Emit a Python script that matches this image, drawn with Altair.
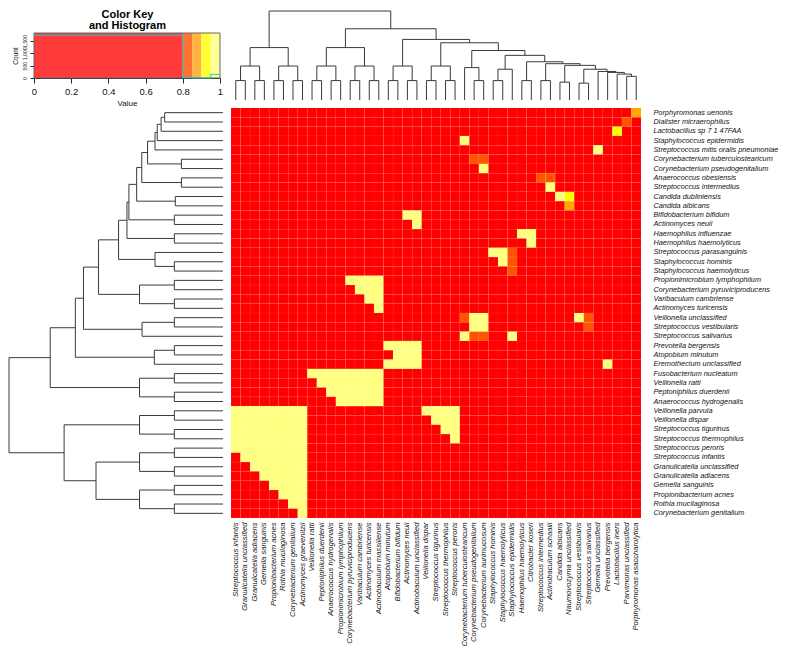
import altair as alt
import numpy as np
import pandas as pd

FONT = "Liberation Sans, Arial, Helvetica, sans-serif"

row_names = [
    "Porphyromonas uenonis", "Dialister micraerophilus", "Lactobacillus sp 7 1 47FAA",
    "Staphylococcus epidermidis", "Streptococcus mitis oralis pneumoniae",
    "Corynebacterium tuberculostearicum", "Corynebacterium pseudogenitalium",
    "Anaerococcus obesiensis", "Streptococcus intermedius", "Candida dubliniensis",
    "Candida albicans", "Bifidobacterium bifidum", "Actinomyces neuii",
    "Haemophilus influenzae", "Haemophilus haemolyticus", "Streptococcus parasanguinis",
    "Staphylococcus hominis", "Staphylococcus haemolyticus", "Propionimicrobium lymphophilum",
    "Corynebacterium pyruviciproducens", "Varibaculum cambriense", "Actinomyces turicensis",
    "Veillonella unclassified", "Streptococcus vestibularis", "Streptococcus salivarius",
    "Prevotella bergensis", "Atopobium minutum", "Eremothecium unclassified",
    "Fusobacterium nucleatum", "Veillonella ratti", "Peptoniphilus duerdenii",
    "Anaerococcus hydrogenalis", "Veillonella parvula", "Veillonella dispar",
    "Streptococcus tigurinus", "Streptococcus thermophilus", "Streptococcus peroris",
    "Streptococcus infantis", "Granulicatella unclassified", "Granulicatella adiacens",
    "Gemella sanguinis", "Propionibacterium acnes", "Rothia mucilaginosa",
    "Corynebacterium genitalium",
]

col_names = [
    "Streptococcus infantis", "Granulicatella unclassified", "Granulicatella adiacens",
    "Gemella sanguinis", "Propionibacterium acnes", "Rothia mucilaginosa",
    "Corynebacterium genitalium", "Actinomyces graevenitzii", "Veillonella ratti",
    "Peptoniphilus duerdenii", "Anaerococcus hydrogenalis", "Propionimicrobium lymphophilum",
    "Corynebacterium pyruviciproducens", "Varibaculum cambriense", "Actinomyces turicensis",
    "Actinobaculum massiliense", "Atopobium minutum", "Bifidobacterium bifidum",
    "Actinomyces neuii", "Actinobaculum unclassified", "Veillonella dispar",
    "Streptococcus tigurinus", "Streptococcus thermophilus", "Streptococcus peroris",
    "Corynebacterium tuberculostearicum", "Corynebacterium pseudogenitalium",
    "Corynebacterium aurimucosum", "Staphylococcus hominis", "Staphylococcus haemolyticus",
    "Staphylococcus epidermidis", "Haemophilus haemolyticus", "Citrobacter koseri",
    "Streptococcus intermedius", "Actinobaculum schaalii", "Candida albicans",
    "Naumovozyma unclassified", "Streptococcus vestibularis", "Streptococcus salivarius",
    "Gemella unclassified", "Prevotella bergensis", "Lactobacillus iners",
    "Parvimonas unclassified", "Porphyromonas asaccharolytica",
]

# non-red blocks: (row, first col, last col, value)
cell_spans = [
    (0, 42, 42, 0.87), (1, 41, 41, 0.82), (2, 40, 40, 0.92), (3, 24, 24, 0.98),
    (4, 38, 38, 0.98), (5, 25, 26, 0.82), (6, 26, 26, 0.98), (7, 32, 33, 0.82),
    (8, 33, 33, 0.98), (9, 34, 34, 0.98), (9, 35, 35, 0.92), (10, 35, 35, 0.87),
    (11, 18, 19, 0.98), (12, 19, 19, 0.98), (13, 30, 31, 0.98), (14, 31, 31, 0.98),
    (15, 27, 28, 0.98), (15, 29, 29, 0.82), (16, 28, 28, 0.98), (16, 29, 29, 0.82),
    (17, 29, 29, 0.82), (18, 12, 15, 0.98), (19, 13, 15, 0.98), (20, 14, 15, 0.98),
    (21, 15, 15, 0.98),
    (22, 24, 24, 0.82), (22, 25, 26, 0.98), (22, 36, 36, 0.98), (22, 37, 37, 0.82),
    (23, 25, 26, 0.98), (23, 37, 37, 0.82),
    (24, 24, 24, 0.98), (24, 25, 26, 0.82), (24, 29, 29, 0.98),
    (25, 16, 19, 0.98), (26, 17, 19, 0.98), (27, 16, 19, 0.98), (27, 39, 39, 0.98),
    (28, 8, 15, 0.98), (29, 9, 15, 0.98), (30, 10, 15, 0.98), (31, 11, 15, 0.98),
    (32, 0, 7, 0.98), (32, 20, 23, 0.98), (33, 0, 7, 0.98), (33, 21, 23, 0.98),
    (34, 0, 7, 0.98), (34, 22, 23, 0.98), (35, 0, 7, 0.98), (35, 23, 23, 0.98),
    (36, 0, 7, 0.98), (37, 1, 7, 0.98), (38, 2, 7, 0.98), (39, 3, 7, 0.98),
    (40, 4, 7, 0.98), (41, 5, 7, 0.98), (42, 6, 7, 0.98), (43, 7, 7, 0.98),
]

# hclust-style merges: negative = leaf (1-based), positive = earlier merge
row_merges = [
    (-1, -2, 60.3), (1, -3, 64.0), (2, -4, 68.0), (3, -5, 70.3), (-6, -7, 43.0),
    (4, 5, 78.0), (-8, -9, 43.0), (6, 7, 84.0), (-10, -11, 49.3), (8, 9, 89.3),
    (-12, -13, 50.3), (10, 11, 97.3), (-14, -15, 50.3), (12, 13, 99.3),
    (-17, -18, 50.3), (-16, 15, 70.3), (14, 16, 108.0), (-19, -20, 50.3),
    (-21, -22, 50.3), (18, 19, 86.3), (17, 20, 128.7), (-23, -24, 50.3),
    (22, -25, 83.7), (21, 23, 144.3), (-26, -27, 50.3), (25, -28, 71.0),
    (24, 26, 152.7), (-29, -30, 50.3), (-31, -32, 50.3), (28, 29, 86.3),
    (27, 30, 178.7), (-33, -34, 50.3), (-35, -36, 50.3), (32, 33, 86.3),
    (-37, -38, 50.3), (-39, -40, 50.3), (35, 36, 86.3), (-41, -42, 50.3),
    (-43, -44, 50.3), (38, 39, 86.3), (37, 40, 131.3), (34, 41, 164.3),
    (31, 42, 221.3),
]

col_merges = [
    (-1, -2, 20.0), (-3, -4, 20.0), (1, 2, 35.0), (-5, -6, 20.0), (-7, -8, 20.0),
    (4, 5, 35.0), (3, 6, 54.0), (-9, -10, 20.0), (-11, -12, 20.0), (8, 9, 35.0),
    (-13, -14, 20.0), (-15, -16, 20.0), (11, 12, 35.0), (10, 13, 54.0),
    (-17, -18, 20.0), (-19, -20, 20.0), (15, 16, 35.0), (-21, -22, 20.0),
    (-23, -24, 20.0), (18, 19, 35.0), (-26, -27, 20.0), (-25, 21, 33.4),
    (-28, -29, 20.0), (23, -30, 31.7), (-31, -32, 20.0), (-33, -34, 20.0),
    (-35, -36, 18.4), (-37, -38, 17.4), (-42, -43, 24.4), (-41, 29, 26.7),
    (-40, 30, 28.4), (-39, 31, 29.4), (28, 32, 31.7), (27, 33, 35.7),
    (26, 34, 37.4), (25, 35, 39.4), (24, 36, 46.0), (22, 37, 51.0),
    (20, 38, 59.0), (17, 39, 62.4), (14, 40, 73.4), (7, 41, 91.7),
]

key_breaks = [0.0, 0.8, 0.85, 0.9, 0.95, 1.0]
heat_colors = ["#FF0000", "#FF5500", "#FFAA00", "#FFFF00", "#FFFF80"]
key_colors = ["#FF3B3B", "#FF7433", "#FFB340", "#FFFF33", "#FFFF99"]
count_ticks = [0, 500, 1000, 1500]

# ---------------- build tables ----------------
vals = {}
for r, c0, c1, v in cell_spans:
    for c in range(c0, c1 + 1):
        vals[(r, c)] = v
heat_rows = []
for r, rn in enumerate(row_names):
    for c, cn in enumerate(col_names):
        heat_rows.append({"row": rn, "col": cn, "value": vals.get((r, c), 0.0)})
heat_df = pd.DataFrame(heat_rows)

counts, _ = np.histogram(heat_df["value"].values, bins=key_breaks)
counts = [int(x) for x in counts]
count_top = max(counts) / 0.95

bins_df = pd.DataFrame({
    "lo": key_breaks[:-1], "hi": key_breaks[1:],
    "ylo": [0.0] * 5, "yhi": [count_top] * 5, "colour": key_colors,
})
hist_df = pd.DataFrame({"x": key_breaks, "y": counts + [counts[-1]], "o": list(range(6))})
box_df = pd.DataFrame({"x": [0.0], "x2": [1.0], "y": [0.0], "y2": [count_top]})


def dendro_segments(merges):
    pos, hgt, segs = {}, {}, []

    def get(ref):
        if ref < 0:
            return (-ref - 1) + 0.5, 0.0
        return pos[ref], hgt[ref]

    for k, (a, b, h) in enumerate(merges, start=1):
        pa, ha = get(a)
        pb, hb = get(b)
        segs.append({"p": pa, "p2": pa, "h": ha, "h2": h})
        segs.append({"p": pb, "p2": pb, "h": hb, "h2": h})
        segs.append({"p": pa, "p2": pb, "h": h, "h2": h})
        pos[k] = (pa + pb) / 2
        hgt[k] = h
    return pd.DataFrame(segs)


row_seg = dendro_segments(row_merges)
col_seg = dendro_segments(col_merges)

# ---------------- layout (pixels inside the plot area) ----------------
W, H = 632, 507
HM_X = [222, 632]
HM_Y = [97, 507]
KEY_X = [25, 211]
KEY_Y = [67, 22]
LINE = "#3a3a3a"

heat = alt.Chart(heat_df).mark_rect(stroke="white", strokeOpacity=0.08, strokeWidth=0.5).encode(
    x=alt.X("col:N", sort=col_names,
            scale=alt.Scale(range=HM_X, paddingInner=0, paddingOuter=0),
            axis=alt.Axis(orient="bottom", title=None, labelAngle=270, labelFontStyle="italic",
                          labelFont=FONT, labelFontSize=7.6, labelPadding=4, ticks=False,
                          domain=False, labelColor="#111", labelOverlap=False, labelLimit=300)),
    y=alt.Y("row:N", sort=row_names,
            scale=alt.Scale(range=HM_Y, paddingInner=0, paddingOuter=0),
            axis=alt.Axis(orient="right", title=None, labelFontStyle="italic", labelFont=FONT,
                          labelFontSize=7.3, labelPadding=12, ticks=False, domain=False,
                          labelColor="#111", labelOverlap=False, labelAlign="left", labelLimit=300)),
    color=alt.Color("value:Q", legend=None,
                    scale=alt.Scale(type="threshold", domain=key_breaks[1:-1], range=heat_colors)),
)

col_dendro = alt.Chart(col_seg).mark_rule(color=LINE, strokeWidth=1).encode(
    x=alt.X("p:Q", scale=alt.Scale(domain=[0, len(col_names)], range=HM_X, nice=False, zero=False), axis=None),
    x2="p2:Q",
    y=alt.Y("h:Q", scale=alt.Scale(domain=[0, col_merges[-1][2]], range=[89, 0], nice=False, zero=False), axis=None),
    y2="h2:Q",
)

row_dendro = alt.Chart(row_seg).mark_rule(color=LINE, strokeWidth=1).encode(
    y=alt.Y("p:Q", scale=alt.Scale(domain=[0, len(row_names)], range=HM_Y, nice=False, zero=False), axis=None),
    y2="p2:Q",
    x=alt.X("h:Q", scale=alt.Scale(domain=[0, row_merges[-1][2]], range=[214, 0], nice=False, zero=False), axis=None),
    x2="h2:Q",
)

kx = alt.Scale(domain=[0, 1], range=KEY_X, nice=False, zero=False)
ky = alt.Scale(domain=[0, count_top], range=KEY_Y, nice=False, zero=False)

key_bins = alt.Chart(bins_df).mark_rect().encode(
    x=alt.X("lo:Q", scale=kx,
            axis=alt.Axis(orient="bottom", offset=KEY_Y[0] - H, values=[0, 0.2, 0.4, 0.6, 0.8, 1],
                          format="~g", title="Value", labelFont=FONT, labelFontSize=9.5,
                          titleFont=FONT, titleFontSize=8, titleFontWeight="normal",
                          tickSize=5, tickColor="#222", domainColor="#222", labelPadding=3,
                          titlePadding=4, labelColor="#111", titleColor="#111", grid=False,
                          labelFlush=False, labelOverlap=False)),
    x2="hi:Q",
    y=alt.Y("ylo:Q", scale=ky,
            axis=alt.Axis(orient="left", offset=-KEY_X[0], values=count_ticks, title="Count",
                          labelFont=FONT, labelFontSize=5.2, labelAngle=270, labelAlign="center",
                          labelBaseline="bottom", labelPadding=3, tickSize=4, tickColor="#222",
                          domain=False, titleFont=FONT, titleFontSize=6.5, titleFontWeight="normal",
                          titlePadding=4, labelColor="#111", titleColor="#111", grid=False,
                          labelOverlap=False, labelFlush=False)),
    y2="yhi:Q",
    color=alt.Color("colour:N", scale=None, legend=None),
)

key_box = alt.Chart(box_df).mark_rect(fillOpacity=0, stroke="#666", strokeWidth=1).encode(
    x=alt.X("x:Q", scale=kx, axis=None), x2="x2:Q",
    y=alt.Y("y:Q", scale=ky, axis=None), y2="y2:Q",
)

key_line = alt.Chart(hist_df).mark_line(color="#1fc8c8", strokeWidth=1, interpolate="step-after").encode(
    x=alt.X("x:Q", scale=kx,
            axis=alt.Axis(orient="top", offset=-19, labels=False, ticks=False, domain=False, grid=False,
                          title=["Color Key", "and Histogram"], titleFont=FONT, titleFontSize=11,
                          titleFontWeight="bold", titlePadding=0, titleLineHeight=11,
                          titleColor="#000")),
    y=alt.Y("y:Q", scale=ky, axis=None),
    order="o:Q",
)

chart = alt.layer(heat, col_dendro, row_dendro, key_bins, key_box, key_line).resolve_scale(
    x="independent", y="independent", color="independent"
).resolve_axis(x="independent", y="independent").properties(
    width=W, height=H, padding=0
).configure(background="white", view=alt.ViewConfig(stroke=None))

chart.save("out.html", embed_options={"renderer": "svg", "actions": False})
